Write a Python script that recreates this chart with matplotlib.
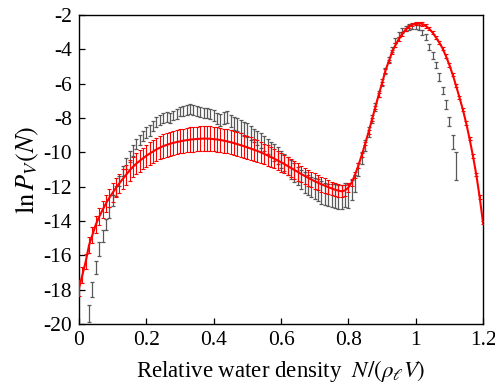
import numpy as np
import matplotlib
matplotlib.use('Agg')
import matplotlib.pyplot as plt

plt.rcParams['font.family'] = 'Liberation Serif'
plt.rcParams['mathtext.fontset'] = 'stix'
plt.rcParams['axes.unicode_minus'] = False

# simulation data (black), x from 0.03 to 1.12 step 0.01
sim_x = np.round(np.arange(3, 113) * 0.01, 2)
sim_y = [-19.4, -18.0, -16.7, -15.65, -14.9, -14.2, -13.5, -12.8, -12.25, -11.65,
         -11.1, -10.65, -10.25, -9.9, -9.52, -9.28, -9.05, -8.85, -8.72, -8.45,
         -8.22, -8.1, -8.0, -7.95, -8.0, -7.85, -7.75, -7.62, -7.6, -7.52,
         -7.48, -7.52, -7.6, -7.65, -7.7, -7.7, -7.75, -7.85, -8.0, -8.1,
         -8.0, -7.95, -8.2, -8.3, -8.4, -8.5, -8.62, -8.7, -8.88, -9.02,
         -9.18, -9.32, -9.5, -9.65, -9.82, -10.0, -10.2, -10.4, -10.6, -10.8,
         -11.0, -11.18, -11.38, -11.58, -11.75, -11.9, -12.02, -12.12, -12.2, -12.33,
         -12.42, -12.48, -12.5, -12.55, -12.6, -12.62, -12.5, -12.55, -12.2, -11.8,
         -11.0, -10.35, -9.6, -8.82, -8.05, -7.36, -6.6, -5.93, -5.25, -4.58,
         -4.0, -3.5, -3.12, -2.9, -2.78, -2.7, -2.66, -2.68, -2.72, -3.0,
         -3.26, -3.85, -4.35, -4.91, -5.6, -6.4, -7.2, -8.2, -9.4, -10.8]
sim_err = [0.5, 0.45, 0.4, 0.4, 0.35, 0.3, 0.3, 0.3, 0.3, 0.3,
           0.3, 0.3, 0.3, 0.3, 0.3, 0.3, 0.3, 0.3, 0.3, 0.3,
           0.28, 0.28, 0.28, 0.28, 0.28, 0.28, 0.28, 0.28, 0.28, 0.28,
           0.28, 0.28, 0.3, 0.3, 0.3, 0.3, 0.3, 0.32, 0.32, 0.35,
           0.35, 0.35, 0.35, 0.38, 0.38, 0.38, 0.4, 0.4, 0.4, 0.4,
           0.42, 0.42, 0.45, 0.45, 0.45, 0.48, 0.5, 0.5, 0.5, 0.52,
           0.55, 0.55, 0.55, 0.58, 0.6, 0.6, 0.6, 0.62, 0.62, 0.65,
           0.65, 0.65, 0.68, 0.68, 0.7, 0.7, 0.7, 0.7, 0.6, 0.5,
           0.4, 0.35, 0.3, 0.28, 0.25, 0.22, 0.2, 0.2, 0.18, 0.16,
           0.15, 0.15, 0.15, 0.15, 0.15, 0.15, 0.15, 0.15, 0.15, 0.15,
           0.18, 0.18, 0.2, 0.2, 0.22, 0.22, 0.25, 0.28, 0.4, 0.8]

# model (red), x from 0 to 1.2 step 0.01
fit_x = np.round(np.arange(0, 121) * 0.01, 2)
fit_y = [-17.9, -17.15, -16.35, -15.4, -14.8, -14.2, -13.75, -13.35, -12.98, -12.65,
         -12.35, -12.06, -11.8, -11.55, -11.3, -11.06, -10.85, -10.66, -10.5, -10.35,
         -10.2, -10.07, -9.95, -9.83, -9.73, -9.64, -9.57, -9.5, -9.45, -9.4,
         -9.36, -9.32, -9.29, -9.26, -9.24, -9.22, -9.21, -9.2, -9.2, -9.21,
         -9.23, -9.25, -9.28, -9.32, -9.36, -9.41, -9.46, -9.52, -9.58, -9.64,
         -9.71, -9.78, -9.85, -9.92, -10.0, -10.09, -10.18, -10.27, -10.37, -10.47,
         -10.57, -10.68, -10.8, -10.91, -11.03, -11.14, -11.26, -11.37, -11.48, -11.58,
         -11.68, -11.77, -11.86, -11.94, -12.02, -12.1, -12.17, -12.23, -12.27, -12.22,
         -12.05, -11.75, -11.3, -10.75, -10.15, -9.5, -8.82, -8.1, -7.38, -6.66,
         -5.98, -5.25, -4.7, -4.15, -3.75, -3.4, -3.1, -2.85, -2.68, -2.56,
         -2.5, -2.48, -2.52, -2.64, -2.8, -3.02, -3.3, -3.6, -3.95, -4.4,
         -4.9, -5.48, -6.12, -6.8, -7.5, -8.3, -9.2, -10.2, -11.3, -12.6,
         -14.1]
fit_err = [0.45, 0.45, 0.45, 0.45, 0.48, 0.5, 0.5, 0.5, 0.52, 0.52,
           0.55, 0.55, 0.55, 0.58, 0.58, 0.6, 0.6, 0.6, 0.62, 0.62,
           0.65, 0.65, 0.65, 0.67, 0.67, 0.68, 0.68, 0.7, 0.7, 0.7,
           0.7, 0.7, 0.7, 0.72, 0.72, 0.72, 0.72, 0.72, 0.72, 0.72,
           0.72, 0.72, 0.7, 0.7, 0.7, 0.7, 0.68, 0.68, 0.68, 0.66,
           0.66, 0.65, 0.64, 0.63, 0.62, 0.6, 0.6, 0.58, 0.57, 0.56,
           0.55, 0.54, 0.53, 0.52, 0.51, 0.5, 0.49, 0.48, 0.47, 0.46,
           0.45, 0.44, 0.43, 0.42, 0.41, 0.4, 0.38, 0.36, 0.34, 0.32,
           0.28, 0.22, 0.18, 0.15, 0.12, 0.1, 0.1, 0.1, 0.1, 0.1,
           0.1, 0.1, 0.1, 0.1, 0.1, 0.1, 0.1, 0.1, 0.1, 0.1,
           0.1, 0.1, 0.1, 0.1, 0.1, 0.1, 0.1, 0.1, 0.1, 0.1,
           0.1, 0.1, 0.1, 0.1, 0.1, 0.1, 0.1, 0.1, 0.1, 0.1,
           0.1]

xticks = [0, 0.2, 0.4, 0.6, 0.8, 1.0, 1.2]
xticklabels = ['0', '0.2', '0.4', '0.6', '0.8', '1', '1.2']
yticks = [-20, -18, -16, -14, -12, -10, -8, -6, -4, -2]

fig = plt.figure(figsize=(4.95, 3.88), dpi=100)
ax = fig.add_axes([0.1596, 0.1649, 0.8162, 0.7964])

l, caps, bars = ax.errorbar(sim_x, sim_y, yerr=sim_err, fmt='none', ecolor='0.35',
                            elinewidth=0.9, capsize=1.6, capthick=0.9, zorder=2)
for c in caps:
    c.set_color('black')

ax.errorbar(fit_x, fit_y, yerr=fit_err, fmt='-', color='red', lw=1.5,
            ecolor='red', elinewidth=0.8, capsize=1.6, capthick=0.8, zorder=3)

ax.set_xlim(0, 1.2)
ax.set_ylim(-20, -2)
ax.set_xticks(xticks)
ax.set_xticklabels(xticklabels)
ax.set_yticks(yticks)
ax.set_yticklabels([str(t) for t in yticks])
ax.tick_params(direction='in', length=4.5, width=0.9, labelsize=15.5,
               top=False, right=False, pad=5)
for s in ax.spines.values():
    s.set_linewidth(1.0)

ax.set_xlabel(r'Relative water density  $N/(\rho_\ell V)$', fontsize=16.5, labelpad=6)
ax.set_ylabel(r'$\ln P_V(N)$', fontsize=19, labelpad=2)

fig.savefig('out.png', dpi=100)
